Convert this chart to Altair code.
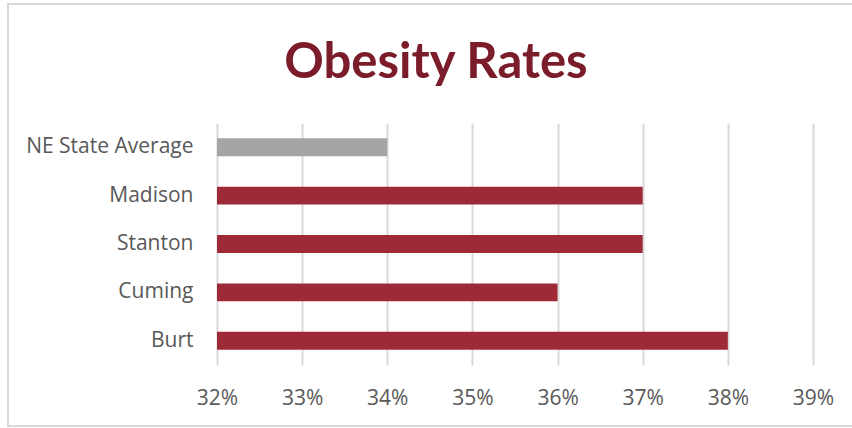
import altair as alt
import pandas as pd

categories = ["NE State Average", "Madison", "Stanton", "Cuming", "Burt"]
values = [34, 37, 37, 36, 38]
colors = ["#a5a5a5", "#9e2a38", "#9e2a38", "#9e2a38", "#9e2a38"]
tick_values = [32, 33, 34, 35, 36, 37, 38, 39]

df = pd.DataFrame({"county": categories, "rate": values, "color": colors})

bars = alt.Chart(df).mark_bar().encode(
    y=alt.Y("county:N", sort=categories, title=None,
            scale=alt.Scale(paddingInner=0.63, paddingOuter=0.315),
            axis=alt.Axis(labelFont="Open Sans", labelFontSize=21, labelColor="#595959",
                          ticks=False, domain=False, labelPadding=24, grid=False)),
    x=alt.X("rate:Q", title=None,
            scale=alt.Scale(domain=[32, 39], nice=False, zero=False),
            axis=alt.Axis(values=tick_values, labelExpr="datum.value + '%'",
                          labelFont="Open Sans", labelFontSize=21, labelColor="#595959",
                          labelFlush=False,
                          ticks=False, domain=False, labelPadding=22,
                          grid=True, gridColor="#d9d9d9", gridWidth=2)),
    x2=alt.datum(32),
    color=alt.Color("color:N", scale=None, legend=None),
)

border = alt.Chart(df).mark_rect(fill=None, stroke="#d9d9d9", strokeWidth=2, clip=False).encode(
    x=alt.value(8 - 217), x2=alt.value(870 - 217),
    y=alt.value(4 - 123), y2=alt.value(426 - 123),
)

chart = alt.layer(border, bars).properties(
    width=596, height=242,
    autosize=alt.AutoSizeParams(type="none"),
    padding={"left": 217, "top": 123, "right": 39, "bottom": 63},
    title=alt.TitleParams("Obesity Rates", font="Lato", fontSize=49, fontWeight="bold",
                          color="#7b1c2a", anchor="middle", frame="group",
                          baseline="alphabetic", dx=-79, offset=-124),
).configure_view(stroke=None)

chart.save("out.html", embed_options={"renderer": "svg", "actions": False})
